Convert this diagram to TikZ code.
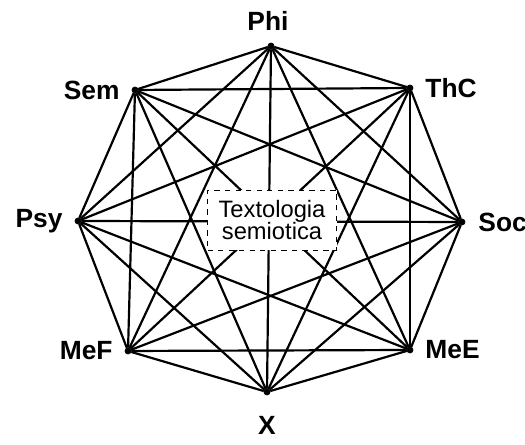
\documentclass[tikz,border=0pt]{standalone}
\usepackage{fontspec}
\setsansfont{Liberation Sans}
\usetikzlibrary{positioning}
\tikzset{
	vertex/.style={circle, draw=black, fill=black, inner sep=0pt, minimum size=0.12cm},
	lab/.style   ={font=\sffamily\bfseries\fontsize{15}{17}\selectfont, inner sep=1pt},
	edge/.style  ={line width=1.25pt},
	centre/.style={rectangle, draw=black, dashed, thin, fill=white, align=center, minimum width=2.58cm, minimum height=1.2cm, inner sep=2pt, font=\sffamily\fontsize{13.5}{15}\selectfont},
}
\begin{document}
\begin{tikzpicture}
	\useasboundingbox (0,0) rectangle (10.5,8.9);
	% vertices of the octagon
	\node[vertex] (phi) at (5.42,7.98) {};
	\node[vertex] (thc) at (8.20,7.14) {};
	\node[vertex] (soc) at (9.24,4.46) {};
	\node[vertex] (mee) at (8.20,1.90) {};
	\node[vertex] (x)   at (5.34,1.06) {};
	\node[vertex] (mef) at (2.56,1.88) {};
	\node[vertex] (psy) at (1.56,4.48) {};
	\node[vertex] (sem) at (2.70,7.10) {};
	% every pair joined
	\foreach \a [count=\i] in {phi,thc,soc,mee,x,mef,psy,sem}
		\foreach \b [count=\j] in {phi,thc,soc,mee,x,mef,psy,sem}
			{\ifnum\j>\i \draw[edge] (\a) -- (\b); \fi}
	% labels
	\node[lab, above=0.2cm of phi, xshift=-0.06cm] (lphi) {Phi};
	\node[lab, right=0.2cm of thc] (lthc) {ThC};
	\node[lab, right=0.22cm of soc] (lsoc) {Soc};
	\node[lab, right=0.2cm of mee] (lmee) {MeE};
	\node[lab, below=0.38cm of x] (lx) {X};
	\node[lab, left=0.2cm of mef] (lmef) {MeF};
	\node[lab, left=0.2cm of psy] (lpsy) {Psy};
	\node[lab, left=0.2cm of sem] (lsem) {Sem};
	\node[centre] (txt) at (5.44,4.5) {Textologia\\[-2pt]semiotica};
\end{tikzpicture}
\end{document}
